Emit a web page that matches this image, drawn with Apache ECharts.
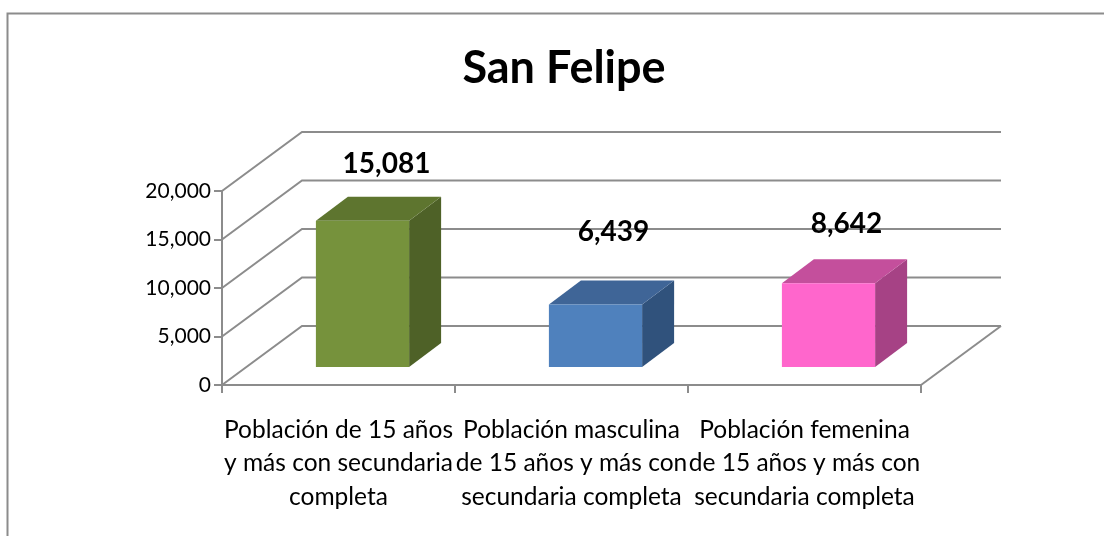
<!DOCTYPE html>
<html>
<head>
<meta charset="utf-8">
<style>
    html, body { margin: 0; padding: 0; background: #fff; }
    #chart { width: 1104px; height: 536px; }
</style>
<script src="https://cdn.jsdelivr.net/npm/echarts@6/dist/echarts.min.js"></script>
</head>
<body>
<div id="chart"></div>
<script>
const categories = [
    "Población de 15 años\ny más con secundaria\ncompleta",
    "Población masculina\nde 15 años y más con\nsecundaria completa",
    "Población femenina\nde 15 años y más con\nsecundaria completa"
];
const values = [15081, 6439, 8642];
const yTicks = [0, 5000, 10000, 15000, 20000];

const frontColors = ["#76923c", "#4f81bd", "#ff66cc"];
const topColors = ["#5e752f", "#3f6597", "#c44f9c"];
const sideColors = ["#4e6127", "#30527c", "#a64285"];
// the labels were dragged by hand in the original
const labelNudge = [[24, -57], [18, -73], [18, -59]];

const FONT = "Lato, 'Open Sans', sans-serif";
const GRAY = "#8c8c8c";
const wallDepth = [80, -59];
const barDepth = [32, -24];
const barInset = [24, -18];

function renderWall(params, api) {
    let cs = params.coordSys;
    let p = api.coord([0, api.value(0)]);
    let left = cs.x, right = cs.x + cs.width;
    let y = p[1];
    let points = [
        [left, y],
        [left + wallDepth[0], y + wallDepth[1]],
        [right + wallDepth[0], y + wallDepth[1]]
    ];
    let children = [{
        type: "polyline",
        shape: { points: points },
        style: { stroke: GRAY, lineWidth: 2, fill: null }
    }];
    if (api.value(0) === 0) {
        children.push({
            type: "line",
            shape: { x1: right, y1: y, x2: right + wallDepth[0], y2: y + wallDepth[1] },
            style: { stroke: GRAY, lineWidth: 2 }
        });
    }
    return { type: "group", children: children };
}

function renderBar(params, api) {
    let i = params.dataIndex;
    let top = api.coord([i, api.value(1)]);
    let base = api.coord([i, 0]);
    let w = api.size([1, 0])[0] * 0.4;
    let x0 = top[0] + barInset[0] - w / 2, x1 = x0 + w;
    let yT = top[1] + barInset[1], yB = base[1] + barInset[1];
    let dx = barDepth[0], dy = barDepth[1];
    return {
        type: "group",
        children: [
            {
                type: "polygon",
                shape: { points: [[x1, yT], [x1 + dx, yT + dy], [x1 + dx, yB + dy], [x1, yB]] },
                style: { fill: sideColors[i] }
            },
            {
                type: "polygon",
                shape: { points: [[x0, yT], [x0 + dx, yT + dy], [x1 + dx, yT + dy], [x1, yT]] },
                style: { fill: topColors[i] }
            },
            {
                type: "rect",
                shape: { x: x0, y: yT, width: w, height: yB - yT },
                style: { fill: frontColors[i] }
            },
            {
                type: "text",
                x: top[0] + barInset[0] + labelNudge[i][0],
                y: yT + labelNudge[i][1],
                style: {
                    text: api.value(1).toLocaleString("en-US"),
                    fill: "#000",
                    font: "bold 28px " + FONT,
                    align: "center",
                    verticalAlign: "middle"
                }
            }
        ]
    };
}

let chartDom = document.getElementById("chart");
let myChart = echarts.init(chartDom);

let option = {
    animation: false,
    backgroundColor: "#fff",
    title: {
        text: "San Felipe",
        left: 559,
        top: 41,
        textAlign: "center",
        textStyle: { fontFamily: FONT, fontSize: 45, fontWeight: "bold", color: "#000" }
    },
    graphic: [{
        type: "polyline",
        shape: { points: [[7.5, 536], [7.5, 13.5], [1104, 13.5]] },
        style: { stroke: GRAY, lineWidth: 2, fill: null }
    }],
    grid: { left: 222, right: 183, top: 191, bottom: 151 },
    xAxis: {
        type: "category",
        data: categories,
        axisLine: { lineStyle: { color: GRAY, width: 2 } },
        axisTick: { show: true, alignWithLabel: false, length: 8, lineStyle: { color: GRAY, width: 2 } },
        splitLine: { show: false },
        axisLabel: {
            interval: 0,
            margin: 28,
            color: "#000",
            fontFamily: FONT,
            fontSize: 24.5,
            lineHeight: 33.5,
            align: "center"
        }
    },
    yAxis: {
        type: "value",
        min: 0,
        max: 20000,
        interval: 5000,
        axisLine: { show: true, lineStyle: { color: GRAY, width: 2 } },
        axisTick: { show: true, length: 8, lineStyle: { color: GRAY, width: 2 } },
        splitLine: { show: false },
        axisLabel: {
            margin: 11,
            color: "#000",
            fontFamily: FONT,
            fontSize: 21,
            formatter: v => v.toLocaleString("en-US")
        }
    },
    series: [
        {
            type: "custom",
            coordinateSystem: "cartesian2d",
            renderItem: renderWall,
            data: yTicks.map(t => [t]),
            encode: { y: 0 },
            silent: true,
            z: 1
        },
        {
            type: "custom",
            coordinateSystem: "cartesian2d",
            renderItem: renderBar,
            data: values.map((v, i) => [i, v]),
            encode: { x: 0, y: 1 },
            clip: false,
            z: 3
        }
    ]
};

option && myChart.setOption(option);
</script>
</body>
</html>
